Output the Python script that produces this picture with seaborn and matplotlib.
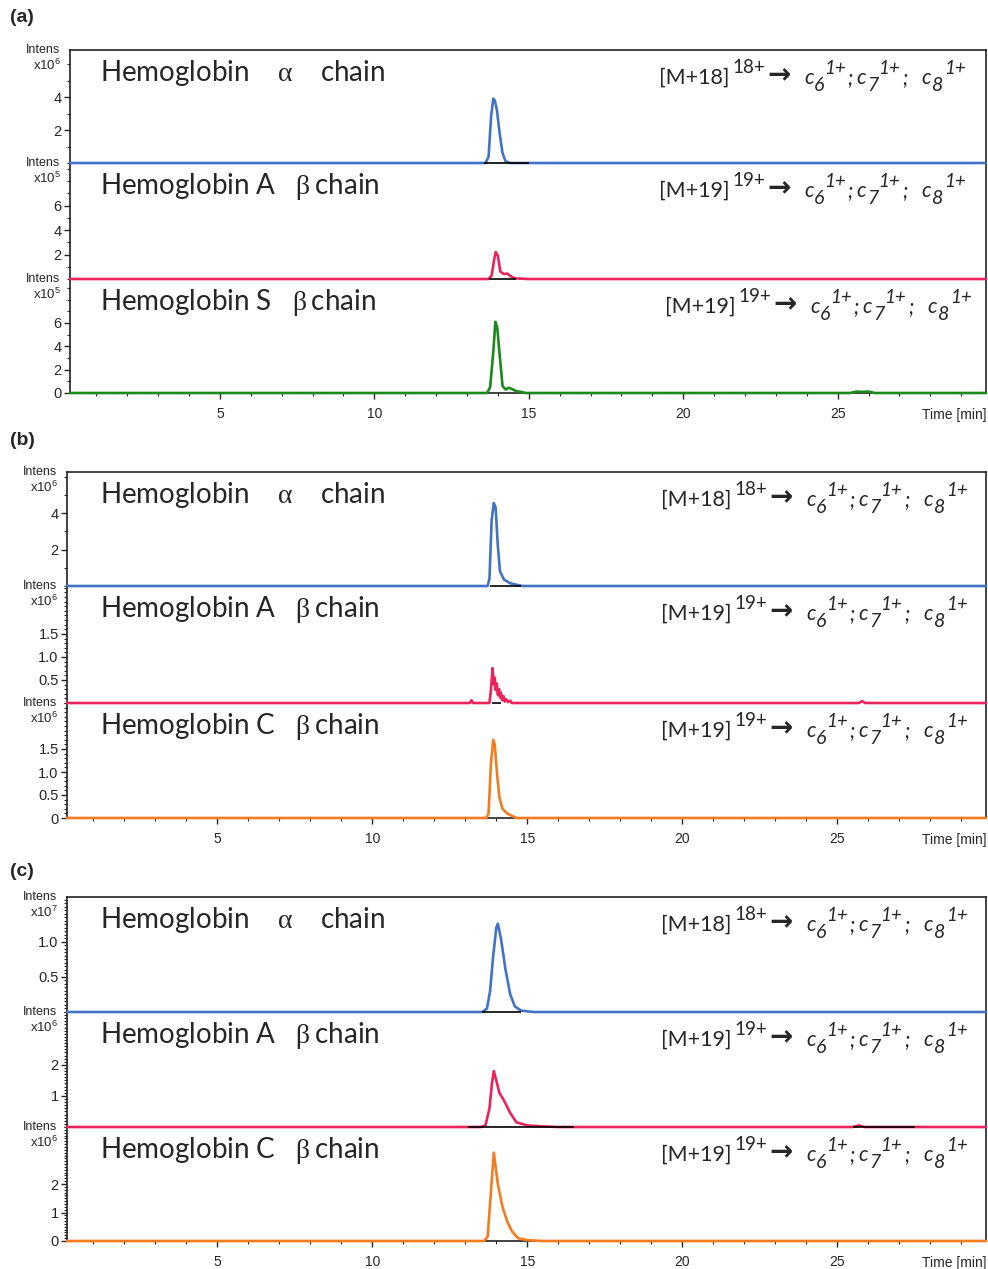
import matplotlib
matplotlib.use("Agg")
import matplotlib.pyplot as plt
from matplotlib.ticker import MultipleLocator, FixedLocator
import seaborn as sns

# style
sns.set_style("ticks")
plt.rcParams['font.family'] = ['Liberation Sans', 'DejaVu Sans']
plt.rcParams['mathtext.fontset'] = 'custom'
plt.rcParams['mathtext.rm'] = 'Liberation Serif'

W, H = 988, 1269

# ---- chromatogram data (time in min, intensity in units of the axis exponent) ----
# panel (a)
a_alpha_t = [0.15, 13.60, 13.70, 13.78, 13.85, 13.90, 13.97, 14.05, 14.15, 14.25, 14.40, 29.8]
a_alpha_y = [0, 0, 0.4, 2.8, 3.9, 3.8, 3.2, 1.9, 0.6, 0.1, 0, 0]
a_betaA_t = [0.15, 13.70, 13.80, 13.88, 13.93, 14.00, 14.08, 14.20, 14.30, 14.40, 14.55, 15.0, 29.8]
a_betaA_y = [0, 0, 0.3, 1.6, 2.2, 1.9, 0.6, 0.4, 0.45, 0.25, 0.05, 0, 0]
a_betaS_t = [0.15, 13.65, 13.75, 13.85, 13.92, 13.98, 14.05, 14.15, 14.25, 14.35, 14.45,
             14.60, 14.75, 14.90, 25.40, 25.60, 25.80, 26.00, 26.20, 29.8]
a_betaS_y = [0, 0, 0.5, 3.5, 6.1, 5.6, 3.5, 0.6, 0.3, 0.45, 0.35, 0.15, 0.1, 0, 0, 0.12, 0.1, 0.12, 0, 0]

# panel (b)
b_alpha_t = [0.15, 13.72, 13.78, 13.85, 13.92, 13.98, 14.05, 14.12, 14.25, 14.45, 14.70, 14.85, 29.8]
b_alpha_y = [0, 0, 0.4, 3.6, 4.55, 4.3, 2.2, 0.8, 0.35, 0.15, 0.05, 0, 0]
b_betaA_t = [0.15, 13.15, 13.20, 13.25, 13.78, 13.83, 13.88, 13.92, 13.95, 13.98, 14.02, 14.05,
             14.09, 14.12, 14.15, 14.19, 14.23, 14.27, 14.32, 14.38, 14.45, 14.50,
             25.70, 25.80, 25.90, 29.8]
b_betaA_y = [0, 0, 0.06, 0, 0, 0.3, 0.76, 0.4, 0.55, 0.28, 0.42, 0.18,
             0.3, 0.12, 0.22, 0.06, 0.15, 0.03, 0.08, 0.02, 0.05, 0,
             0, 0.04, 0, 0]
b_betaC_t = [0.15, 13.68, 13.75, 13.83, 13.90, 13.95, 14.02, 14.10, 14.20, 14.35, 14.50, 14.65, 29.8]
b_betaC_y = [0, 0, 0.1, 1.2, 1.7, 1.6, 1.0, 0.45, 0.2, 0.1, 0.05, 0, 0]

# panel (c)
c_alpha_t = [0.15, 13.55, 13.70, 13.80, 13.90, 14.00, 14.05, 14.15, 14.30, 14.45, 14.60, 14.80, 15.20, 29.8]
c_alpha_y = [0, 0, 0.05, 0.3, 0.8, 1.2, 1.26, 1.05, 0.6, 0.25, 0.08, 0.02, 0, 0]
c_betaA_t = [0.15, 13.50, 13.65, 13.78, 13.86, 13.92, 14.00, 14.10, 14.25, 14.45, 14.65, 15.00,
             15.50, 16.00, 25.50, 25.70, 25.90, 29.8]
c_betaA_y = [0, 0, 0.05, 0.6, 1.4, 1.8, 1.5, 1.1, 0.85, 0.45, 0.15, 0.05,
             0.02, 0, 0, 0.05, 0, 0]
c_betaC_t = [0.15, 13.60, 13.72, 13.82, 13.92, 14.05, 14.20, 14.35, 14.50, 14.70, 15.00, 15.50, 29.8]
c_betaC_y = [0, 0, 0.15, 1.6, 3.1, 2.0, 1.2, 0.7, 0.35, 0.1, 0.03, 0, 0]

# integration baselines drawn under the peaks (start, end in min)
a_alpha_int = [(13.55, 15.0)]
a_betaA_int = [(13.7, 14.6)]
b_alpha_int = [(13.8, 14.8)]
b_betaA_int = [(13.85, 14.15)]
c_alpha_int = [(13.55, 14.8)]
c_betaA_int = [(13.1, 16.5), (25.5, 27.5)]

# axis scales
y_top = [[6.85, 9.47, 9.77], [6.25, 2.54, 2.5], [1.64, 3.7, 4.0]]
y_major = [[[2, 4], [2, 4, 6], [2, 4, 6]],
           [[2, 4], [0.5, 1.0, 1.5], [0.5, 1.0, 1.5]],
           [[0.5, 1.0], [1, 2], [1, 2]]]
y_minor = [[1, 1, 1], [1, 0.1, 0.1], [0.05, 0.1, 0.1]]
y_fmt = [["%d", "%d", "%d"], ["%d", "%.1f", "%.1f"], ["%.1f", "%d", "%d"]]
y_exp = [[6, 5, 5], [6, 6, 6], [7, 6, 6]]
x_ticks = [5, 10, 15, 20, 25]

panel_labels = ["(a)", "(b)", "(c)"]
panel_label_y = [18, 441, 871]
alpha_lbl = "Hemoglobin    $\\mathrm{\\alpha}$    chain"
chain_labels = [
    [alpha_lbl, "Hemoglobin A   $\\mathrm{\\beta}\\,$chain", "Hemoglobin S   $\\mathrm{\\beta}\\,$chain"],
    [alpha_lbl, "Hemoglobin A   $\\mathrm{\\beta}\\,$chain", "Hemoglobin C   $\\mathrm{\\beta}\\,$chain"],
    [alpha_lbl, "Hemoglobin A   $\\mathrm{\\beta}\\,$chain", "Hemoglobin C   $\\mathrm{\\beta}\\,$chain"],
]
ion_charge = [[18, 19, 19], [18, 19, 19], [18, 19, 19]]
ion_end_px = [[966, 966, 972], [968, 968, 968], [968, 968, 968]]

traces = [
    [(a_alpha_t, a_alpha_y), (a_betaA_t, a_betaA_y), (a_betaS_t, a_betaS_y)],
    [(b_alpha_t, b_alpha_y), (b_betaA_t, b_betaA_y), (b_betaC_t, b_betaC_y)],
    [(c_alpha_t, c_alpha_y), (c_betaA_t, c_betaA_y), (c_betaC_t, c_betaC_y)],
]
integrations = [
    [a_alpha_int, a_betaA_int, []],
    [b_alpha_int, b_betaA_int, []],
    [c_alpha_int, c_betaA_int, []],
]
colors = [["#4472C4", "#E8245A", "#1A8A1A"],
          ["#4472C4", "#E8245A", "#F47C20"],
          ["#4472C4", "#E8245A", "#F47C20"]]

# layout in pixels: left edge, row boundaries
panel_left = [70, 67, 67]
panel_rows = [[50, 163, 279, 393], [472, 586, 703, 818], [897, 1012, 1127, 1241]]
right_px = 986

fig = plt.figure(figsize=(W / 100, H / 100), dpi=100)
renderer = fig.canvas.get_renderer()


def ion_label(end_px, base_px, z):
    """[M+z]^z+ -> c6^1+; c7^1+; c8^1+ written piece by piece, right end at end_px."""
    # text, italic, raise (px), size, gap after (px)
    pieces = [("[M+%d]" % z, False, 0, 15.5, 3), ("%d+" % z, False, 11, 13.5, 2),
              ("\u2192", None, 0, 20, 14),
              ("c", True, 0, 15, 0), ("6", True, -7, 14, 0), ("1+", True, 10, 13.5, 1),
              (";", True, 0, 15, 4),
              ("c", True, 0, 15, 1), ("7", True, -7, 14, 0), ("1+", True, 10, 13.5, 2),
              (";", True, 0, 15, 14),
              ("c", True, 0, 15, 1), ("8", True, -7, 14, 1), ("1+", True, 10, 13.5, 0)]
    texts, widths = [], []
    for s, ital, dy, size, gap in pieces:
        if ital is None:
            t = fig.text(0, 1 - (base_px - 1) / H, s, fontsize=size, family='DejaVu Sans',
                         fontweight='bold', va='baseline', ha='left')
        else:
            t = fig.text(0, 1 - (base_px - dy) / H, s, fontsize=size, family='Lato',
                         style='italic' if ital else 'normal', va='baseline', ha='left')
        texts.append(t)
        widths.append(t.get_window_extent(renderer).width + gap)
    x = end_px - sum(widths)
    for t, w in zip(texts, widths):
        t.set_x(x / W)
        x += w


for p in range(3):
    left = panel_left[p]
    rows = panel_rows[p]
    fig.text(10 / W, 1 - panel_label_y[p] / H, panel_labels[p], fontsize=14,
             fontweight='bold', va='center', ha='left')
    for s in range(3):
        top_px, bot_px = rows[s], rows[s + 1]
        ax = fig.add_axes([left / W, 1 - bot_px / H, (right_px - left) / W, (bot_px - top_px) / H])
        ax.patch.set_alpha(0)
        ax.set_zorder(5 - s)
        t, y = traces[p][s]
        sns.lineplot(x=t, y=y, ax=ax, color=colors[p][s], linewidth=1.9,
                     zorder=3, clip_on=False)
        for x0, x1 in integrations[p][s]:
            ax.hlines(0, x0, x1, color='black', linewidth=1.2, zorder=4, clip_on=False)

        ax.set_xlim(0.15, 29.8)
        ax.set_ylim(0, y_top[p][s])

        # y ticks
        majors = y_major[p][s]
        if s == 2:
            majors = [0] + majors
        ax.yaxis.set_major_locator(FixedLocator(majors))
        ax.yaxis.set_minor_locator(MultipleLocator(y_minor[p][s]))
        ax.set_yticklabels([(y_fmt[p][s] % v) if v != 0 else "0" for v in majors])
        ax.tick_params(axis='y', which='major', length=4, width=1, labelsize=10.5, pad=2)
        ax.tick_params(axis='y', which='minor', length=2.5, width=0.8)

        # x ticks
        ax.xaxis.set_major_locator(FixedLocator(x_ticks))
        ax.xaxis.set_minor_locator(MultipleLocator(1))
        ax.tick_params(axis='x', which='major', length=4, width=1, labelsize=10, pad=6)
        ax.tick_params(axis='x', which='minor', length=2.5, width=0.8)
        if s < 2:
            ax.tick_params(axis='x', which='both', bottom=False, labelbottom=False)
            ax.spines['bottom'].set_visible(False)

        for sp in ax.spines.values():
            sp.set_linewidth(1.2)
            sp.set_color('#222222')
        if s > 0:
            ax.spines['top'].set_visible(False)
        ax.set_xlabel("")
        ax.set_ylabel("")

        # "Intens / x10^n" label
        ax.annotate("Intens", xy=(0, 1), xycoords='axes fraction', xytext=(-7, 0),
                    textcoords='offset points', ha='right', va='center', fontsize=9)
        ax.annotate("x10$^{\\mathregular{%d}}$" % y_exp[p][s], xy=(0, 1), xycoords='axes fraction',
                    xytext=(-6, -11), textcoords='offset points', ha='right', va='center',
                    fontsize=9.5)

        # chain name and transition
        h_px = bot_px - top_px
        ax.text((100 - left) / (right_px - left), 1 - 31 / h_px, chain_labels[p][s],
                transform=ax.transAxes, fontsize=20, family='Lato', va='baseline', ha='left')
        ion_label(ion_end_px[p][s], top_px + 34, ion_charge[p][s])

        if s == 2:
            ax.annotate("Time [min]", xy=(1, 0), xycoords='axes fraction', xytext=(0, -11),
                        textcoords='offset points', ha='right', va='top', fontsize=10)

fig.savefig("out.png", dpi=100, facecolor='white')
